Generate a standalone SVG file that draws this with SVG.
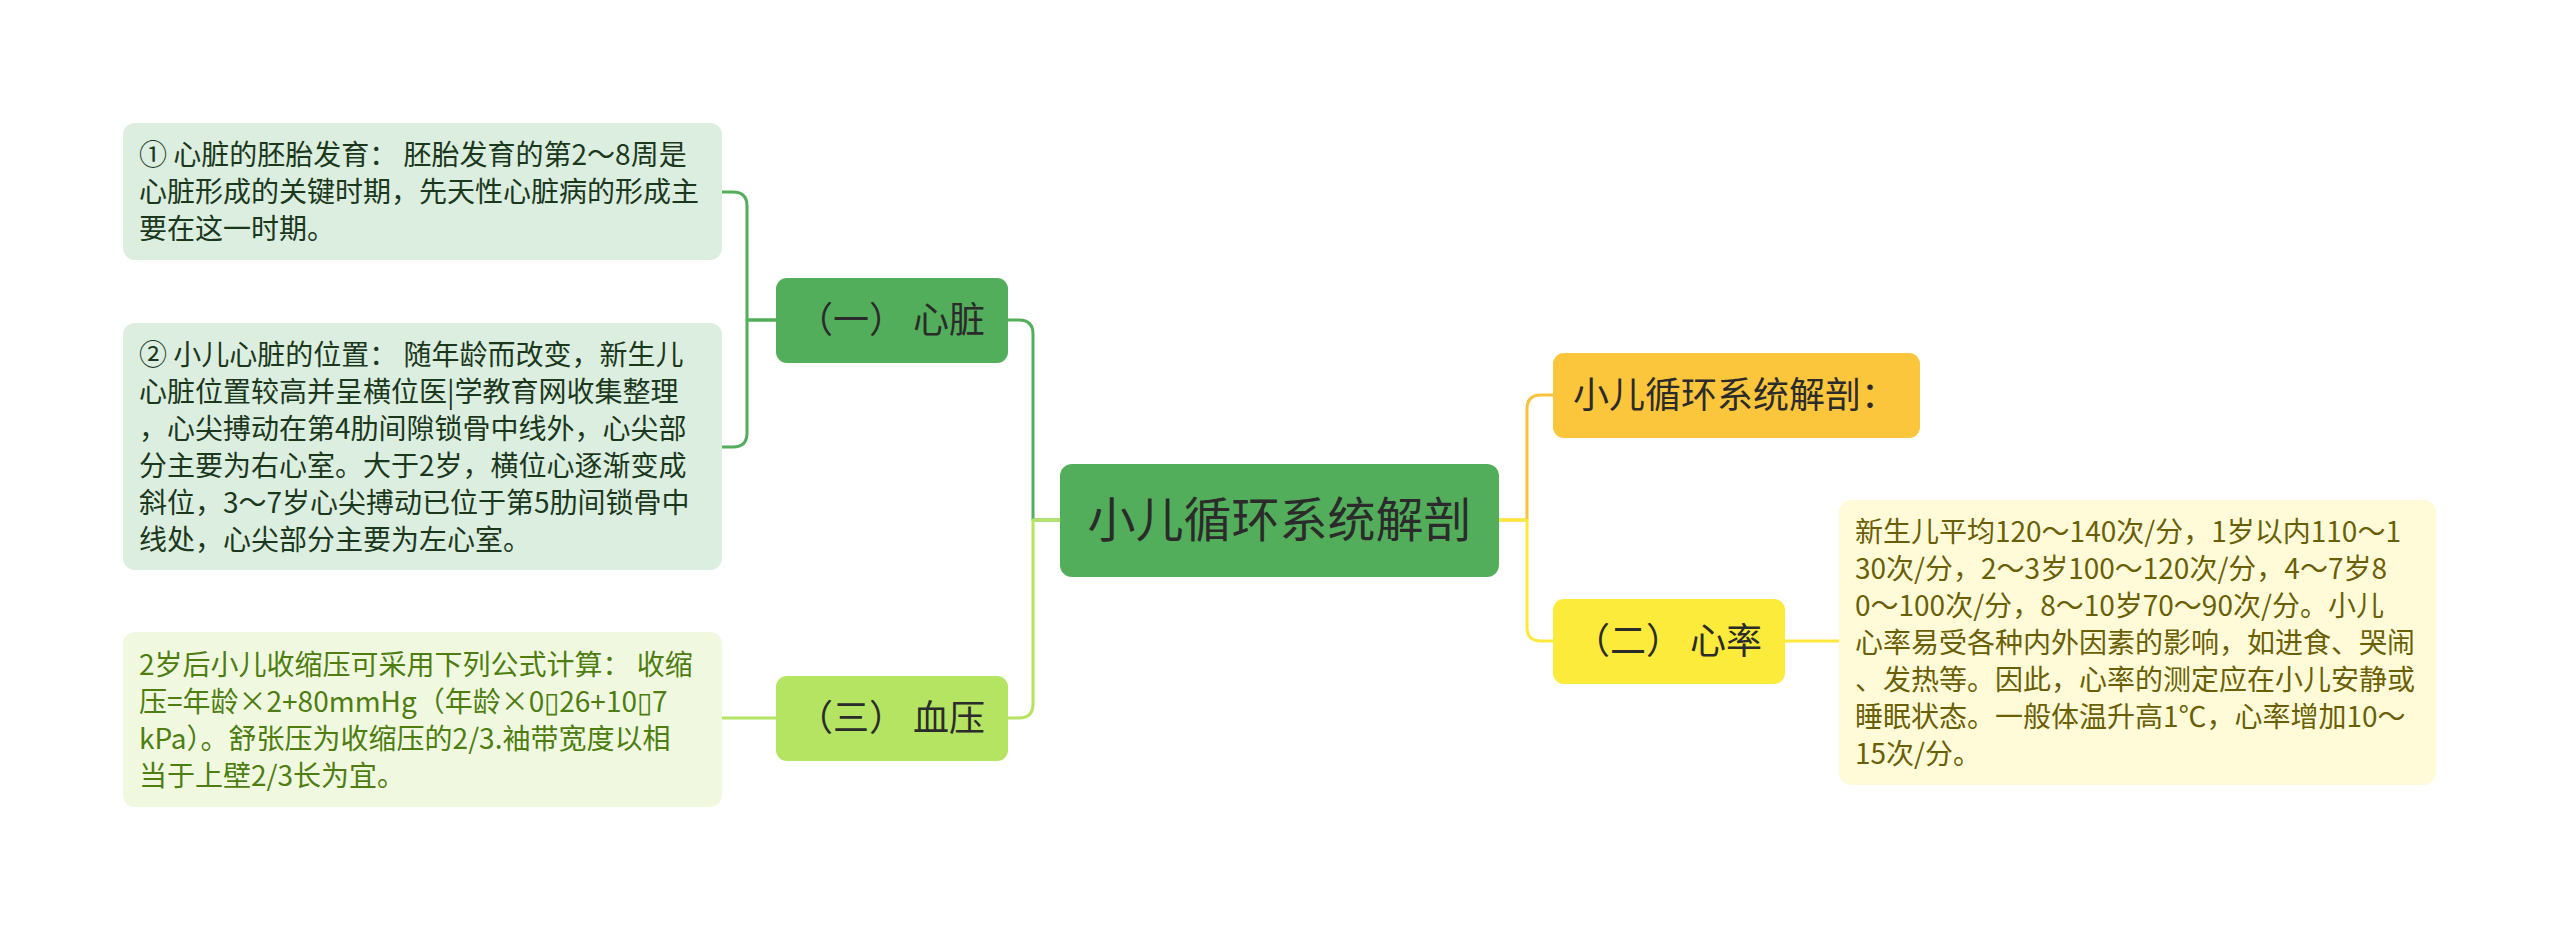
<svg xmlns="http://www.w3.org/2000/svg" width="2560" height="931" viewBox="0 0 2560 931">
<style>
text{font-family:"Noto Sans CJK SC","Noto Sans",sans-serif;}
.c{fill:none;stroke-width:3;stroke-linecap:round;stroke-linejoin:round;}
.t28{font-size:28px;}
.t36{font-size:36px;fill:#2b2b2b;}
.t48{font-size:48px;fill:#2b2b2b;}
</style>
<rect width="2560" height="931" fill="#ffffff"/>
<g id="connectors">
<path class="c" stroke="#53ae5b" d="M1060,520 H1033 V334 Q1033,320 1019,320 H1008"/>
<path class="c" stroke="#b4e462" d="M1060,520 H1033 V704 Q1033,718 1019,718 H1008"/>
<path class="c" stroke="#53ae5b" d="M776,320 H747 V206 Q747,192 733,192 H722"/>
<path class="c" stroke="#53ae5b" d="M776,320 H747 V433 Q747,447 733,447 H722"/>
<path class="c" stroke="#b4e462" d="M776,718 H722"/>
<path class="c" stroke="#f9c23c" d="M1499,520 H1527 V409 Q1527,395 1541,395 H1553"/>
<path class="c" stroke="#fde83b" d="M1499,520 H1527 V627 Q1527,641 1541,641 H1553"/>
<path class="c" stroke="#fde83b" d="M1785,641 H1839"/>
</g>
<g id="root">
<rect x="1060" y="464" width="439" height="113" rx="12" fill="#53ae5b"/>
<text class="t48" x="1279.5" y="537" text-anchor="middle">小儿循环系统解剖</text>
</g>
<g id="n-heart">
<rect x="776" y="278" width="232" height="85" rx="11" fill="#53ae5b"/>
<text class="t36" x="797" y="333">（一） 心脏</text>
</g>
<g id="n-bp">
<rect x="776" y="676" width="232" height="85" rx="11" fill="#b4e462"/>
<text class="t36" x="797" y="731">（三） 血压</text>
</g>
<g id="n-title">
<rect x="1553" y="353" width="367" height="85" rx="11" fill="#fbc53c"/>
<text class="t36" x="1573" y="408">小儿循环系统解剖：</text>
</g>
<g id="n-rate">
<rect x="1553" y="599" width="232" height="85" rx="11" fill="#fdeb3c"/>
<text class="t36" x="1574" y="654">（二） 心率</text>
</g>
<g id="box1">
<rect x="123" y="123" width="599" height="137" rx="12" fill="#dbeee0"/>
<text class="t28" fill="#1c381c" x="139">
<tspan x="139" y="165">① 心脏的胚胎发育： 胚胎发育的第2～8周是</tspan>
<tspan x="139" y="202">心脏形成的关键时期，先天性心脏病的形成主</tspan>
<tspan x="139" y="239">要在这一时期。</tspan>
</text>
</g>
<g id="box2">
<rect x="123" y="323" width="599" height="247" rx="12" fill="#dbeee0"/>
<text class="t28" fill="#1c381c">
<tspan x="139" y="365">② 小儿心脏的位置： 随年龄而改变，新生儿</tspan>
<tspan x="139" y="402">心脏位置较高并呈横位医|学教育网收集整理</tspan>
<tspan x="139" y="439">，心尖搏动在第4肋间隙锁骨中线外，心尖部</tspan>
<tspan x="139" y="476">分主要为右心室。大于2岁，横位心逐渐变成</tspan>
<tspan x="139" y="513">斜位，3～7岁心尖搏动已位于第5肋间锁骨中</tspan>
<tspan x="139" y="550">线处，心尖部分主要为左心室。</tspan>
</text>
</g>
<g id="box3">
<rect x="123" y="632" width="599" height="175" rx="12" fill="#f0f9e0"/>
<text class="t28" fill="#4e7d10">
<tspan x="139" y="675">2岁后小儿收缩压可采用下列公式计算： 收缩</tspan>
<tspan x="139" y="712">压=年龄×2+80mmHg（年龄×0▯26+10▯7</tspan>
<tspan x="139" y="749">kPa）。舒张压为收缩压的2/3.袖带宽度以相</tspan>
<tspan x="139" y="786">当于上壁2/3长为宜。</tspan>
</text>
</g>
<g id="box-rate">
<rect x="1839" y="500" width="597" height="285" rx="12" fill="#fffbd8"/>
<text class="t28" fill="#6b5f05">
<tspan x="1855" y="542">新生儿平均120～140次/分，1岁以内110～1</tspan>
<tspan x="1855" y="579">30次/分，2～3岁100～120次/分，4～7岁8</tspan>
<tspan x="1855" y="616">0～100次/分，8～10岁70～90次/分。小儿</tspan>
<tspan x="1855" y="653">心率易受各种内外因素的影响，如进食、哭闹</tspan>
<tspan x="1855" y="690">、发热等。因此，心率的测定应在小儿安静或</tspan>
<tspan x="1855" y="727">睡眠状态。一般体温升高1℃，心率增加10～</tspan>
<tspan x="1855" y="764">15次/分。</tspan>
</text>
</g>
</svg>
